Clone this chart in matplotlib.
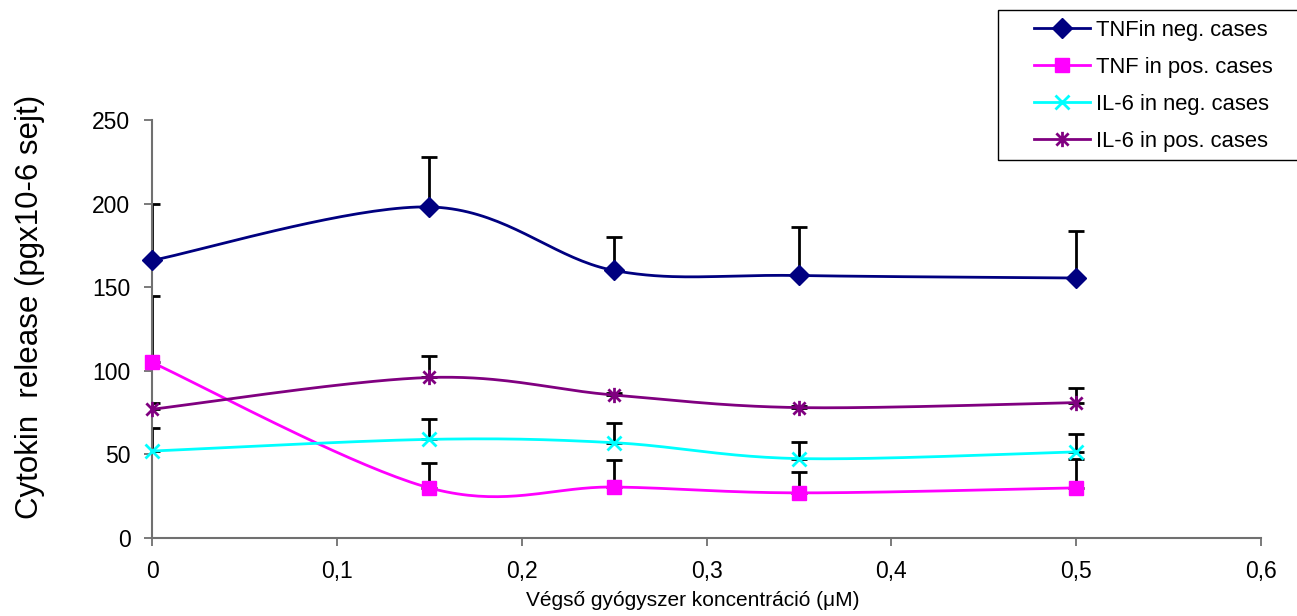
import matplotlib
matplotlib.use("Agg")
import matplotlib.pyplot as plt
from matplotlib.path import Path
from matplotlib.patches import Rectangle
import numpy as np

plt.rcParams['font.family'] = ['Liberation Sans', 'DejaVu Sans']

conc = [0, 0.15, 0.25, 0.35, 0.5]

tnf_neg = [166, 198, 160, 157, 155.5]
tnf_neg_err = [34, 30, 20, 29, 28]
tnf_pos = [105, 30, 30.5, 27, 30]
tnf_pos_err = [40, 15, 16, 12.5, 17]
il6_neg = [52, 59, 57, 47.5, 51.5]
il6_neg_err = [14, 12, 12, 10, 11]
il6_pos = [77, 96, 85.5, 78, 81]
il6_pos_err = [4, 13, 1.5, 1, 9]

labels = ['TNFin neg. cases', 'TNF in pos. cases', 'IL-6 in neg. cases', 'IL-6 in pos. cases']
colors = ['#000080', '#FF00FF', '#00FFFF', '#800080']

# excel-like asterisk: vertical bar plus an x
star = Path([(0, -1), (0, 1), (-0.8, -0.8), (0.8, 0.8), (-0.8, 0.8), (0.8, -0.8)],
            [Path.MOVETO, Path.LINETO, Path.MOVETO, Path.LINETO, Path.MOVETO, Path.LINETO])
markers = ['D', 's', 'x', star]
msizes = [10, 10, 10, 11]


def smooth(xs, ys, n=40):
    # catmull-rom style bezier, roughly what excel does for smoothed lines
    ax_ = np.asarray(xs, float)
    ay_ = np.asarray(ys, float)
    # scale to pixel-ish space so x and y weigh similarly
    sx, sy = 1 / 0.6 * 1109, 1 / 250 * 418
    P = np.column_stack([ax_ * sx, ay_ * sy])
    out = []
    for i in range(len(P) - 1):
        p0 = P[i - 1] if i > 0 else P[i]
        p1 = P[i]
        p2 = P[i + 1]
        p3 = P[i + 2] if i + 2 < len(P) else P[i + 1]
        c1 = p1 + (p2 - p0) / 6
        c2 = p2 - (p3 - p1) / 6
        t = np.linspace(0, 1, n)[:, None]
        seg = (1 - t) ** 3 * p1 + 3 * (1 - t) ** 2 * t * c1 + 3 * (1 - t) * t ** 2 * c2 + t ** 3 * p2
        out.append(seg if i == 0 else seg[1:])
    out = np.vstack(out)
    return out[:, 0] / sx, out[:, 1] / sy


fig = plt.figure(figsize=(12.97, 6.16), dpi=100)
ax = fig.add_axes([0.1172, 0.1266, 0.8551, 0.6786])

series = [(tnf_neg, tnf_neg_err), (tnf_pos, tnf_pos_err), (il6_neg, il6_neg_err), (il6_pos, il6_pos_err)]
handles = []
for (vals, errs), c, m, ms, lab in zip(series, colors, markers, msizes, labels):
    ax.errorbar(conc, vals, yerr=[np.zeros(len(errs)), errs], fmt='none', ecolor='black',
                elinewidth=2, capsize=6, capthick=2, zorder=2)
    xs, ys = smooth(conc, vals)
    ax.plot(xs, ys, color=c, lw=2, zorder=3)
    mew = 2 if m in ('x',) or m is star else 1
    ax.plot(conc, vals, linestyle='none', marker=m, markersize=ms, color=c, mec=c, mew=mew,
            zorder=4, clip_on=False)
    h, = ax.plot([], [], color=c, lw=2, marker=m, markersize=ms, mec=c, mew=mew, label=lab)
    handles.append(h)

ax.set_xlim(0, 0.6)
ax.set_ylim(0, 250)
ax.set_xticks(np.arange(0, 0.61, 0.1))
ax.set_xticklabels(['0', '0,1', '0,2', '0,3', '0,4', '0,5', '0,6'])
ax.set_yticks(range(0, 251, 50))
ax.tick_params(direction='out', length=5.5, width=1.3, labelsize=16.5, color='#707070',
               labelcolor='black', pad=10)
for s in ['top', 'right']:
    ax.spines[s].set_visible(False)
for s in ['left', 'bottom']:
    ax.spines[s].set_color('#707070')
    ax.spines[s].set_linewidth(1.5)

ax.set_ylabel('Cytokin  release (pgx10-6 sejt)', fontsize=22.5)
ax.yaxis.set_label_coords(-0.0965, 0.553)
ax.set_xlabel('Végső gyógyszer koncentráció (μM)', fontsize=15)
ax.xaxis.set_label_coords(0.488, -0.127)

# legend frame runs off the right edge like in the original
fig.patches.append(Rectangle((998 / 1297, 1 - 160 / 616), 0.4, 150 / 616, transform=fig.transFigure,
                             facecolor='white', edgecolor='black', lw=1, zorder=5))
leg = fig.legend(handles=handles, loc='upper left', bbox_to_anchor=(1030 / 1297, 1 - 15.5 / 616),
                 fontsize=15.8, frameon=False, handlelength=2.55, labelspacing=0.73,
                 borderpad=0.2, handletextpad=0.25, borderaxespad=0)
leg.set_zorder(6)

fig.savefig('out.png', dpi=100)
